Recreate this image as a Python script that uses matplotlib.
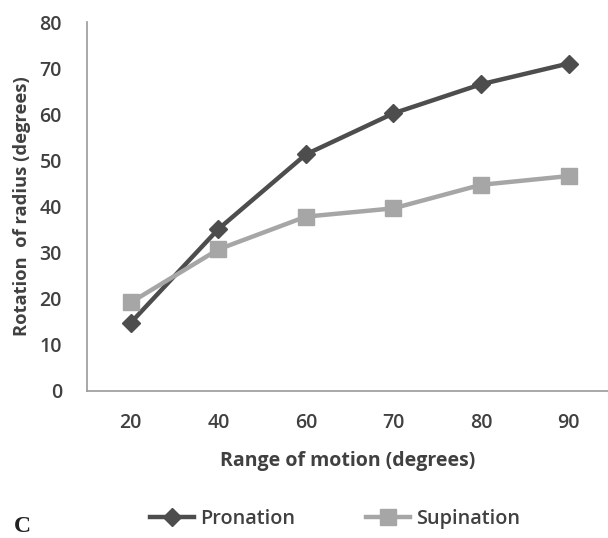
import matplotlib.pyplot as plt
from matplotlib.lines import Line2D

ranges = ['20', '40', '60', '70', '80', '90']
pronation = [14.8, 35.1, 51.3, 60.2, 66.5, 71.0]
supination = [19.2, 30.7, 37.8, 39.6, 44.7, 46.6]

plt.rcParams['font.family'] = ['Open Sans', 'DejaVu Sans']

fig = plt.figure(figsize=(6.08, 5.38), dpi=100)
ax = fig.add_axes([87 / 608, 1 - 391 / 538, 521 / 608, 369 / 538])

x = list(range(len(ranges)))
ax.plot(x, pronation, color='#4d4d4d', lw=3.2, marker='D', ms=9, label='Pronation')
ax.plot(x, supination, color='#a6a6a6', lw=3.2, marker='s', ms=11, label='Supination')

ax.set_xlim(-0.5, 5.45)
ax.set_ylim(0, 80)
ax.set_yticks(range(0, 81, 10))
ax.set_xticks(x)
ax.set_xticklabels(ranges)
ax.tick_params(length=0, labelsize=14, colors='#404040', pad=16)
ax.tick_params(axis='y', pad=18)
for lbl in ax.get_xticklabels() + ax.get_yticklabels():
    lbl.set_fontweight('semibold')

for s in ['top', 'right']:
    ax.spines[s].set_visible(False)
for s in ['left', 'bottom']:
    ax.spines[s].set_color('#9a9a9a')
    ax.spines[s].set_linewidth(1.2)

ax.set_xlabel('Range of motion (degrees)', fontsize=14, fontweight='bold', color='#404040', labelpad=13)
ax.set_ylabel('Rotation  of radius (degrees)', fontsize=13.2, fontweight='bold', color='#404040', labelpad=6)

handles = [Line2D([], [], color='#4d4d4d', lw=3.2, marker='D', ms=9),
           Line2D([], [], color='#a6a6a6', lw=3.2, marker='s', ms=11)]
fig.legend(handles, ['Pronation', 'Supination'], loc='center', bbox_to_anchor=(335 / 608, 1 - 519 / 538),
           ncol=2, frameon=False, handlelength=2.2, columnspacing=3.6, handletextpad=0.3,
           labelcolor='#404040', prop={'weight': 'semibold', 'size': 14.3})

fig.text(14 / 608, 1 - 527 / 538, 'C', family='Liberation Serif', fontweight='bold', fontsize=17,
         va='center', ha='left', color='#222222')

fig.savefig('out.png', dpi=100)
